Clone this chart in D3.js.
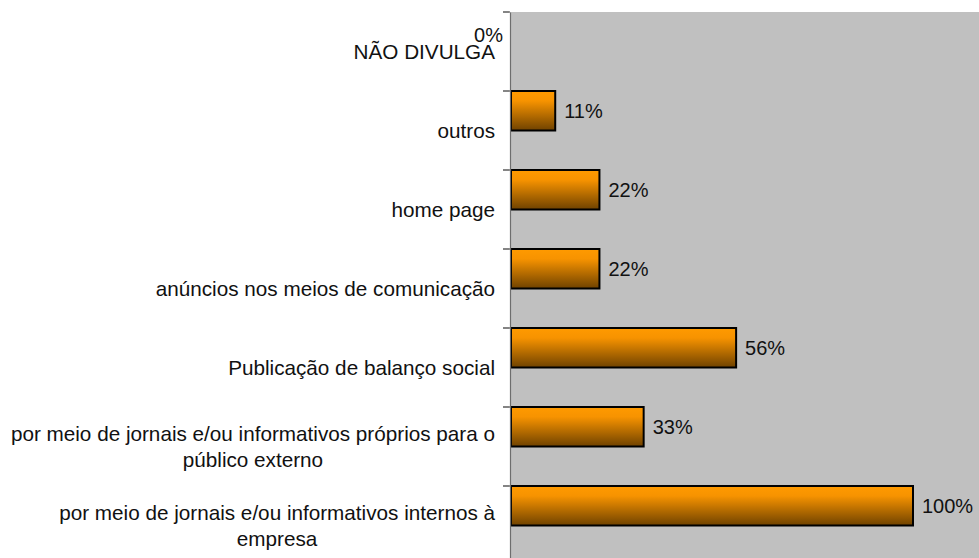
<!DOCTYPE html>
<html>
<head>
<meta charset="utf-8">
<script src="https://cdn.jsdelivr.net/npm/d3@7"></script>
<style>
  body { margin: 0; background: #fff; overflow: hidden; }
  svg { display: block; font-family: "Liberation Sans", Arial, sans-serif; }
</style>
</head>
<body>
<svg id="chart"></svg>
<script>
// categories top to bottom, as on the picture
var categories = [
    "NÃO DIVULGA",
    "outros",
    "home page",
    "anúncios nos meios de comunicação",
    "Publicação de balanço social",
    "por meio de jornais e/ou informativos próprios para o público externo",
    "por meio de jornais e/ou informativos internos à empresa"
];
var tickLabels = [
    ["NÃO DIVULGA"],
    ["outros"],
    ["home page"],
    ["anúncios nos meios de comunicação"],
    ["Publicação de balanço social"],
    ["por meio de jornais e/ou informativos próprios para o", "público externo"],
    ["por meio de jornais e/ou informativos internos à", "empresa"]
];
var values = [0, 11, 22, 22, 56, 33, 100];

var width = 979, height = 558;
var margin = {top: 12, left: 510};

var svg = d3.select("#chart")
    .attr("width", width)
    .attr("height", height);

var defs = svg.append("defs");
var grad = defs.append("linearGradient")
    .attr("id", "barGrad")
    .attr("x1", 0).attr("y1", 0).attr("x2", 0).attr("y2", 1);
grad.append("stop").attr("offset", "0%").attr("stop-color", "#ff9a00");
grad.append("stop").attr("offset", "25%").attr("stop-color", "#f79300");
grad.append("stop").attr("offset", "100%").attr("stop-color", "#6f4200");

var yScale = d3.scaleBand()
    .domain(categories)
    .range([margin.top, margin.top + 79 * categories.length])
    .paddingInner(0)
    .paddingOuter(0);

var xScale = d3.scaleLinear()
    .domain([0, 100])
    .range([margin.left + 1, 913]);

// plot area
svg.append("rect")
    .attr("x", margin.left)
    .attr("y", margin.top)
    .attr("width", width - margin.left)
    .attr("height", height - margin.top)
    .attr("fill", "#c0c0c0");

var barH = yScale.bandwidth() * 0.5;

var bars = svg.append("g").attr("class", "bars");
categories.forEach(function (c, i) {
    if (values[i] <= 0) return;
    bars.append("rect")
        .attr("x", xScale(0))
        .attr("y", yScale(c))
        .attr("width", xScale(values[i]) - xScale(0))
        .attr("height", barH)
        .attr("fill", "url(#barGrad)")
        .attr("stroke", "#000")
        .attr("stroke-width", 2);
});

// value labels
categories.forEach(function (c, i) {
    var v = values[i];
    svg.append("text")
        .attr("x", v > 0 ? xScale(v) + 9 : xScale(0) - 8)
        .attr("y", yScale(c) + barH / 2 + (v > 0 ? 0 : 3))
        .attr("dy", "0.35em")
        .attr("text-anchor", v > 0 ? "start" : "end")
        .attr("font-size", "20px")
        .attr("fill", "#111")
        .text(v + "%");
});

// y axis
var yAxis = svg.append("g")
    .attr("transform", "translate(" + margin.left + ",0)")
    .call(d3.axisLeft(yScale).tickSize(0).tickFormat(""));
yAxis.select(".domain").attr("stroke", "#6e6e6e").attr("stroke-width", 1.2);
yAxis.selectAll(".tick").remove();

var tickG = svg.append("g");
categories.forEach(function (c) {
    tickG.append("line")
        .attr("x1", margin.left - 7).attr("x2", margin.left)
        .attr("y1", yScale(c)).attr("y2", yScale(c))
        .attr("stroke", "#333").attr("stroke-width", 1.2);
});

// category labels, centered lines in a block right aligned to the axis
var labelRight = margin.left - 15;
var lineH = 26;
categories.forEach(function (c, i) {
    var lines = tickLabels[i];
    var g = svg.append("g");
    var texts = lines.map(function (l, j) {
        return g.append("text")
            .attr("font-size", "20.7px")
            .attr("fill", "#111")
            .attr("text-anchor", "middle")
            .attr("y", yScale(c) + yScale.bandwidth() / 2 + (j - (lines.length - 1) / 2) * lineH)
            .attr("dy", "0.35em")
            .text(l);
    });
    var maxW = d3.max(texts, function (t) { return t.node().getComputedTextLength(); });
    texts.forEach(function (t) { t.attr("x", labelRight - maxW / 2); });
});
</script>
</body>
</html>
